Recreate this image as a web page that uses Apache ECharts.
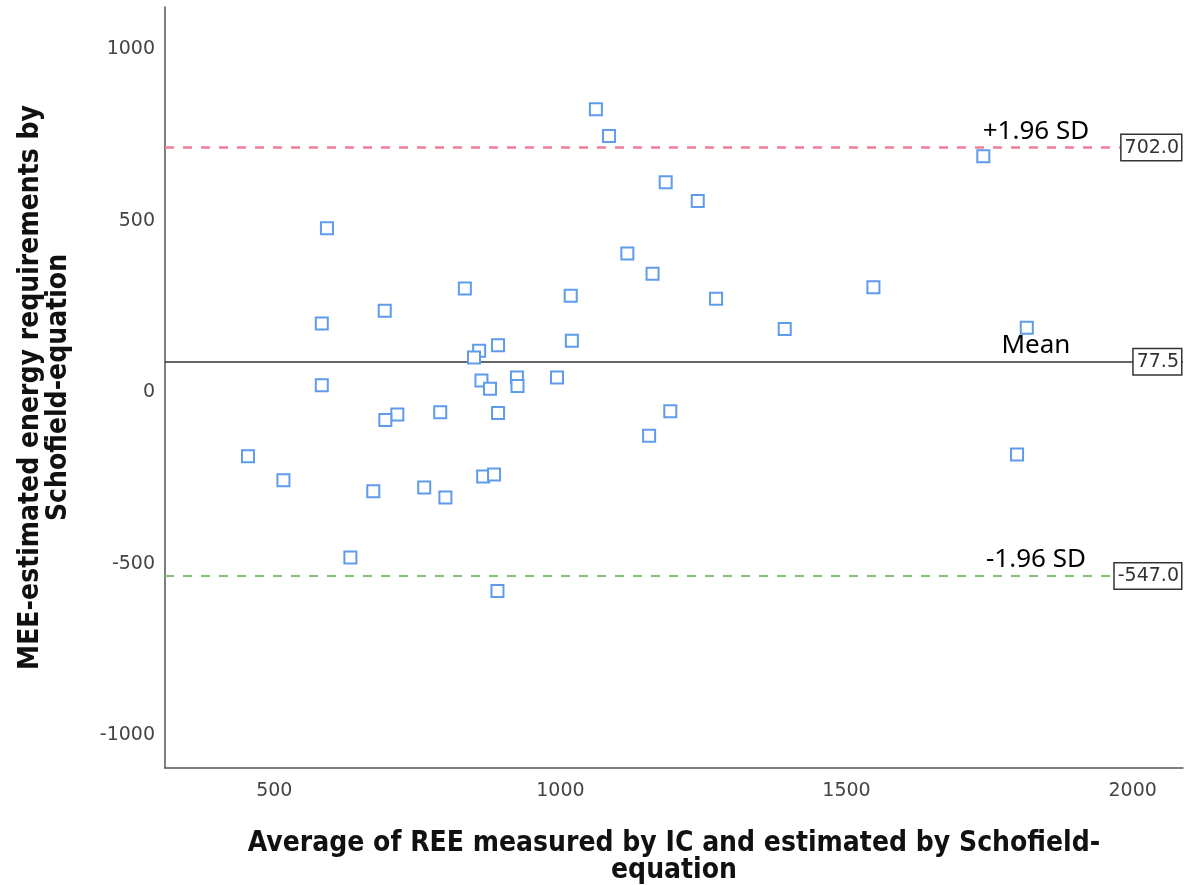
<!DOCTYPE html>
<html>
<head>
<meta charset="utf-8">
<script src="https://cdn.jsdelivr.net/npm/echarts@6/dist/echarts.min.js"></script>
<style>
html,body{margin:0;padding:0;background:#fff;}
#chart{width:1189px;height:885px;}
</style>
</head>
<body>
<div id="chart"></div>
<script>
// Average of the two methods (x) for each subject
const avgValues = [1062,1085,1184,1240,592,1117,1161,833,1018,1547,693,583,1272,1392,1815,1020,891,858,849,583,862,877,924,925,994,715,694,790,891,1192,1155,454,516,673,762,799,865,884,633,890,1739,1798];
// Difference between the two methods (y) for each subject
const diffValues = [814,736,601,546,467,393,334,291,270,295,226,189,261,173,177,139,126,110,90,9,23,-1,32,7,32,-76,-92,-70,-72,-67,-138,-198,-268,-300,-289,-318,-257,-251,-493,-591,677,-193];
// Reference lines
const meanDiff = 77.5;
const upperLoA = 702.0;
const lowerLoA = -547.0;
const refNames = ['+1.96 SD', 'Mean', '-1.96 SD'];
// Tick labels
const xTicks = [500, 1000, 1500, 2000];
const yTicks = [-1000, -500, 0, 500, 1000];
const xTitle = 'Average of REE measured by IC and estimated by Schofield-\nequation';
const yTitle = 'MEE-estimated energy requirements by\nSchofield-equation';

const refLabelX = 1831;
const points = avgValues.map((v, i) => [v, diffValues[i]]);

const boxLabel = {
  show: true,
  position: 'insideEnd',
  distance: 2,
  formatter: p => p.value.toFixed(1),
  backgroundColor: '#fff',
  borderColor: '#333',
  borderWidth: 1.5,
  padding: [4, 2, 2, 3],
  fontFamily: 'DejaVu Sans',
  fontSize: 19,
  color: '#333'
};

const chart = echarts.init(document.getElementById('chart'), null, {renderer: 'canvas'});
chart.setOption({
  animation: false,
  backgroundColor: '#fff',
  grid: {left: 165, right: 6, top: 7, bottom: 117, containLabel: false, outerBoundsMode: 'none'},
  xAxis: {
    type: 'value',
    min: 309, max: 2088,
    name: xTitle,
    nameLocation: 'middle',
    nameGap: 62,
    nameTextStyle: {fontFamily: 'DejaVu Sans Condensed, DejaVu Sans', fontWeight: 'bold', fontSize: 28, lineHeight: 27, color: '#111'},
    axisLine: {show: true, onZero: false, lineStyle: {color: '#555', width: 1.5}},
    axisTick: {show: false},
    splitLine: {show: false},
    axisLabel: {customValues: xTicks, formatter: v => String(v), margin: 14, fontFamily: 'DejaVu Sans', fontSize: 19, color: '#444'}
  },
  yAxis: {
    type: 'value',
    min: -1107, max: 1112,
    name: yTitle,
    nameLocation: 'middle',
    nameRotate: 90,
    nameGap: 92,
    nameTextStyle: {fontFamily: 'DejaVu Sans Condensed, DejaVu Sans', fontWeight: 'bold', fontSize: 28, lineHeight: 28, color: '#111'},
    axisLine: {show: true, onZero: false, lineStyle: {color: '#555', width: 1.5}},
    axisTick: {show: false},
    splitLine: {show: false},
    axisLabel: {customValues: yTicks, formatter: v => String(v), margin: 10, verticalAlign: 'top', lineHeight: 8, fontFamily: 'DejaVu Sans', fontSize: 19, color: '#444'}
  },
  series: [{
    type: 'scatter',
    data: points,
    symbol: 'rect',
    symbolSize: 12,
    itemStyle: {color: '#fff', borderColor: '#5e9ceb', borderWidth: 2, opacity: 1},
    emphasis: {disabled: true},
    z: 3,
    markLine: {
      silent: true,
      symbol: ['none', 'none'],
      z: 2,
      data: [
        {yAxis: upperLoA, lineStyle: {color: '#ee7f98', type: [9, 9], width: 2.5}, label: boxLabel},
        {yAxis: meanDiff, lineStyle: {color: '#333', type: 'solid', width: 1.5}, label: boxLabel},
        {yAxis: lowerLoA, lineStyle: {color: '#8dbf7e', type: [9, 9], width: 2.2}, label: boxLabel}
      ]
    },
    markPoint: {
      silent: true,
      symbol: 'circle',
      symbolSize: 1,
      itemStyle: {color: 'rgba(0,0,0,0)'},
      label: {show: true, position: 'top', distance: 3, formatter: '{b}', fontFamily: 'Noto Sans', fontSize: 26, color: '#000'},
      data: [
        {name: refNames[0], coord: [refLabelX, upperLoA]},
        {name: refNames[1], coord: [refLabelX, meanDiff]},
        {name: refNames[2], coord: [refLabelX, lowerLoA]}
      ]
    }
  }]
});
</script>
</body>
</html>
